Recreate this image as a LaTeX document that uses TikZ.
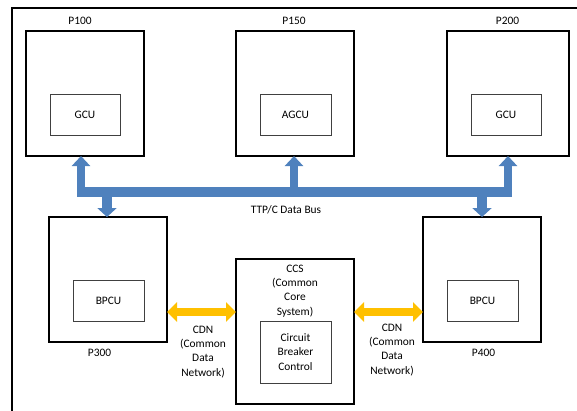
\documentclass[tikz,border=0pt]{standalone}
\usepackage{fontspec}
\setmainfont{Carlito}
\usetikzlibrary{arrows.meta,calc}
\definecolor{busblue}{HTML}{4F81BD}
\definecolor{cdnyellow}{HTML}{FFC000}
\begin{document}
\begin{tikzpicture}[x=1pt,y=-1pt,
  outerbox/.style={draw=black, line width=1.6pt, minimum width=118pt, minimum height=125pt, inner sep=0pt, outer sep=0pt},
  innerbox/.style={draw=black!75, line width=0.8pt, minimum width=71pt, minimum height=41pt, inner sep=0pt, outer sep=0pt, font=\fontsize{11.4}{14.3}\selectfont, align=center},
  lbl/.style={font=\fontsize{11.4}{14.3}\selectfont, inner sep=0pt, align=center},
  busline/.style={busblue, line width=10pt},
  upbus/.style={busblue, line width=8pt, -{Triangle[width=18pt,length=10pt]}},
  downbus/.style={busblue, line width=10pt, -{Triangle[width=19pt,length=9pt]}},
  cdn/.style={cdnyellow, line width=8pt, {Triangle[width=19pt,length=10pt]}-{Triangle[width=19pt,length=10pt]}},
  frame/.style={draw=black, line width=1.5pt}]
\useasboundingbox (0,0) rectangle (577,410);
\clip (0,0) rectangle (577,410);
% outer frame (extends past the picture)
\draw[frame] (12,430) -- (12,8) -- (600,8);

% top processors
\node[outerbox] (P100) at (85,93.5) {};
\node[outerbox] (P150) at (295,93.5) {};
\node[outerbox, minimum width=122pt] (P200) at (508,93.5) {};
\node[innerbox, minimum width=70pt] (GCU1) at (85,114.5) {GCU};
\node[innerbox] (AGCU) at (295.5,114.5) {AGCU};
\node[innerbox, minimum width=70pt] (GCU2) at (506,114.5) {GCU};
\node[lbl] (L100) at (80,20.5) {P100};
\node[lbl] (L150) at (294,20.5) {P150};
\node[lbl] (L200) at (507.5,21) {P200};

% bottom processors
\node[outerbox] (P300) at (108,279.5) {};
\node[outerbox] (P400) at (482,279.5) {};
\node[innerbox] (BPCU1) at (108.5,300.5) {BPCU};
\node[innerbox] (BPCU2) at (482.5,300.5) {BPCU};
\node[lbl] (L300) at (99.5,353) {P300};
\node[lbl] (L400) at (483.5,353) {P400};

% CCS
\node[outerbox, minimum height=145pt] (CCS) at (295,331.5) {};
\node[lbl, anchor=north] (CCSt) at (295,264.5) {CCS\\(Common\\Core\\System)};
\node[innerbox, minimum height=62pt] (CBC) at (295.5,352) {Circuit\\Breaker\\Control};

% bus
\coordinate (busL) at (77,192);
\coordinate (busR) at (512,192);
\coordinate (t1) at (81,192);
\coordinate (t2) at (294,192);
\coordinate (t3) at (508,192);
\coordinate (t4) at (107,192);
\coordinate (t5) at (482,192);
\draw[busline] (busL) -- (busR);
\draw[upbus] (t1) -- (t1 |- P100.south);
\draw[upbus] (t2) -- (t2 |- P150.south);
\draw[upbus] (t3) -- (t3 |- P200.south);
\draw[downbus] (t4) -- (t4 |- P300.north);
\draw[downbus] (t5) -- (t5 |- P400.north);
\node[lbl] (bus) at (286,209.5) {TTP/C Data Bus};

% CDN links
\draw[cdn] ($(P300.east)+(0,32.5)$) -- ($(P300.east -| CCS.west)+(0,32.5)$);
\draw[cdn] ($(CCS.east)+(0,-19.5)$) -- ($(CCS.east -| P400.west)+(0,-19.5)$);
\node[lbl, anchor=north] (cdn1) at (203,325.5) {CDN\\(Common\\Data\\Network)};
\node[lbl, anchor=north] (cdn2) at (392,323.5) {CDN\\(Common\\Data\\Network)};
\end{tikzpicture}
\end{document}
